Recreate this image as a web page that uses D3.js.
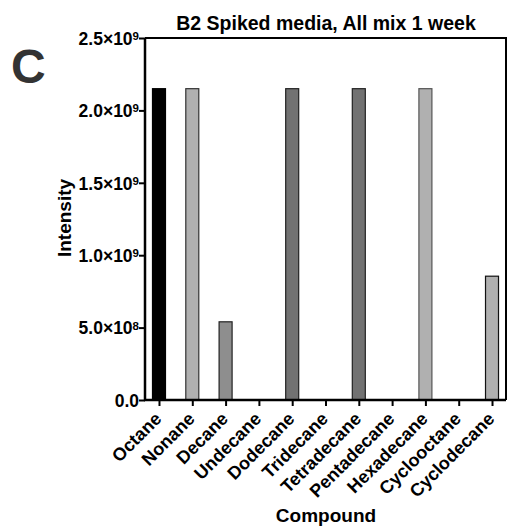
<!DOCTYPE html>
<html>
<head>
<meta charset="utf-8">
<script src="https://cdn.jsdelivr.net/npm/d3@7"></script>
<style>
  html, body { margin: 0; padding: 0; background: #fff; }
  svg { display: block; font-family: "Liberation Sans", Arial, Helvetica, sans-serif; font-weight: bold; }
</style>
</head>
<body>
<svg id="chart" width="507" height="528"></svg>
<script>
// Compound intensities after one week in spiked B2 media
const compounds = ["Octane", "Nonane", "Decane", "Undecane", "Dodecane", "Tridecane",
  "Tetradecane", "Pentadecane", "Hexadecane", "Cyclooctane", "Cyclodecane"];
const intensity = [2.15e9, 2.15e9, 5.4e8, 0, 2.15e9, 0, 2.15e9, 0, 2.15e9, 0, 8.55e8];
const fills = ["#000000", "#b0b0b0", "#8e8e8e", "#8e8e8e", "#727272", "#727272",
  "#727272", "#b0b0b0", "#b0b0b0", "#b0b0b0", "#b0b0b0"];
const strokes = ["#000000", "#333333", "#222222", "#222222", "#222222", "#222222",
  "#222222", "#555555", "#555555", "#111111", "#111111"];
const yTicks = [0, 5e8, 1e9, 1.5e9, 2e9, 2.5e9];
const yTickText = [["0.0", ""], ["5.0×10", "8"], ["1.0×10", "9"], ["1.5×10", "9"], ["2.0×10", "9"], ["2.5×10", "9"]];

const svg = d3.select("#chart");
const plotL = 145, plotR = 506, plotT = 38, plotB = 400;

const x = d3.scalePoint().domain(compounds).range([plotL, plotR]).padding(0.42);
const y = d3.scaleLinear().domain([0, 2.5e9]).range([plotB, plotT]);
const barW = 13;

// frame (top and right edges)
svg.append("path")
  .attr("d", `M${plotL},${plotT}H${plotR}V${plotB}`)
  .attr("fill", "none").attr("stroke", "#000").attr("stroke-width", 2);

// bars
svg.append("g").selectAll("rect").data(compounds).join("rect")
  .attr("x", d => x(d) - barW / 2)
  .attr("y", (d, i) => y(intensity[i]))
  .attr("width", barW)
  .attr("height", (d, i) => plotB - y(intensity[i]))
  .attr("fill", (d, i) => fills[i])
  .attr("stroke", (d, i) => strokes[i])
  .attr("stroke-width", 1.2)
  .attr("visibility", (d, i) => intensity[i] > 0 ? "visible" : "hidden");

// y axis
const yAxis = d3.axisLeft(y).tickValues(yTicks).tickSize(6).tickPadding(3).tickFormat(() => "");
const gy = svg.append("g").attr("transform", `translate(${plotL},0)`).call(yAxis);
gy.select(".domain").attr("stroke-width", 2.5).attr("d", `M0,${plotT}V${plotB + 1}`);
gy.selectAll(".tick line").attr("stroke-width", 2);
gy.selectAll(".tick").each(function(d, i) {
  const t = d3.select(this).append("text")
    .attr("x", -6).attr("dy", "0.36em")
    .attr("text-anchor", "end").attr("fill", "#000")
    .style("font-size", "17.5px").style("font-weight", "bold");
  t.append("tspan").text(yTickText[i][0]);
  if (yTickText[i][1]) t.append("tspan").attr("dy", "-0.42em").style("font-size", "11.5px").text(yTickText[i][1]);
});

// x axis
const xAxis = d3.axisBottom(x).tickSize(6).tickPadding(4);
const gx = svg.append("g").attr("transform", `translate(0,${plotB})`).call(xAxis);
gx.select(".domain").attr("stroke-width", 2.5).attr("d", `M${plotL - 1},0H${plotR}`);
gx.selectAll(".tick line").attr("stroke-width", 2);
gx.selectAll(".tick text")
  .attr("fill", "#000")
  .style("font-size", "18px").style("font-weight", "bold")
  .attr("text-anchor", "end")
  .attr("dy", null).attr("y", null)
  .attr("transform", "translate(3,20) rotate(-45)");

// titles
svg.append("text").attr("x", 326).attr("y", 30).attr("text-anchor", "middle")
  .style("font-size", "19.5px").text("B2 Spiked media, All mix 1 week");
svg.append("text").attr("x", 326).attr("y", 522).attr("text-anchor", "middle")
  .style("font-size", "19px").text("Compound");
svg.append("text").attr("transform", "translate(71,218) rotate(-90)").attr("text-anchor", "middle")
  .style("font-size", "19px").text("Intensity");
svg.append("text").attr("x", 11).attr("y", 83).attr("fill", "#333")
  .style("font-size", "48px").text("C");
</script>
</body>
</html>
